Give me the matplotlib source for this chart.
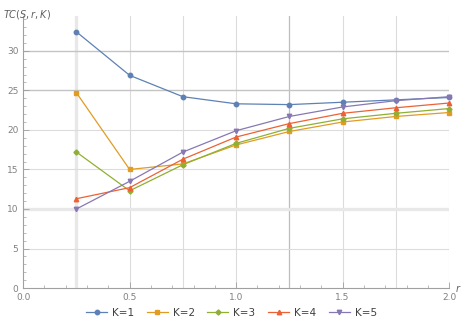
import numpy as np
import matplotlib.pyplot as plt
from matplotlib.ticker import MultipleLocator

# Data
r = [0.25, 0.5, 0.75, 1.0, 1.25, 1.5, 1.75, 2.0]
k1 = [32.4, 26.9, 24.2, 23.3, 23.2, 23.5, 23.8, 24.1]
k2 = [24.7, 15.0, 15.7, 18.1, 19.8, 21.0, 21.7, 22.2]
k3 = [17.2, 12.3, 15.6, 18.3, 20.2, 21.4, 22.1, 22.7]
k4 = [11.3, 12.7, 16.3, 19.1, 20.8, 22.1, 22.8, 23.4]
k5 = [10.0, 13.5, 17.2, 19.9, 21.7, 22.9, 23.7, 24.2]
labels = ['K=1', 'K=2', 'K=3', 'K=4', 'K=5']

colors = ['#5E81B5', '#E19C24', '#8FB032', '#EB6235', '#8778B3']
markers = ['o', 's', 'D', '^', 'v']
msizes = [3.2, 2.6, 2.6, 3.2, 3.2]

fig = plt.figure(figsize=(4.63, 3.27), dpi=100)
ax = fig.add_axes([0.05, 0.119, 0.92, 0.832])

# Grid lines (Mathematica style)
for x in [0.25, 0.5, 0.75, 1.0, 1.25, 1.5, 1.75, 2.0]:
    if x == 0.25:
        ax.axvline(x, color='#e8e8e8', lw=2.4, zorder=0)
    elif x == 1.25:
        ax.axvline(x, color='#bdbdbd', lw=0.9, zorder=0)
    else:
        ax.axvline(x, color='#dcdcdc', lw=0.8, zorder=0)
for y in [5, 10, 15, 20, 25, 30]:
    if y == 10:
        ax.axhline(y, color='#e8e8e8', lw=2.4, zorder=0)
    elif y in (25, 30):
        ax.axhline(y, color='#c4c4c4', lw=1.0, zorder=0)
    else:
        ax.axhline(y, color='#dcdcdc', lw=0.8, zorder=0)

for ys, c, m, ms, lab in zip([k1, k2, k3, k4, k5], colors, markers, msizes, labels):
    ax.plot(r, ys, color=c, marker=m, ms=ms, lw=0.9, label=lab, clip_on=False)

ax.set_xlim(0, 2.0)
ax.set_ylim(0, 34.4)
ax.xaxis.set_major_locator(MultipleLocator(0.5))
ax.xaxis.set_minor_locator(MultipleLocator(0.1))
ax.yaxis.set_major_locator(MultipleLocator(5))
ax.yaxis.set_minor_locator(MultipleLocator(1))
ax.xaxis.set_major_formatter(plt.FuncFormatter(lambda v, p: f'{v:.1f}'))

for s in ['top', 'right']:
    ax.spines[s].set_visible(False)
for s in ['left', 'bottom']:
    ax.spines[s].set_color('#a0a0a0')
    ax.spines[s].set_linewidth(0.8)
ax.tick_params(which='both', direction='in', colors='#a0a0a0', labelcolor='#808080', labelsize=6.5)
ax.tick_params(which='major', length=4, width=0.6)
ax.tick_params(which='minor', length=2, width=0.5)

fig.text(0.006, 0.975, r'$TC(S,r,K)$', fontsize=7, color='#606060', ha='left', va='top')
fig.text(0.983, 0.119, r'$r$', fontsize=7, color='#606060', ha='left', va='center')

fig.legend(loc='lower center', bbox_to_anchor=(0.5, 0.0), ncol=5, frameon=False,
           fontsize=7.5, handlelength=2, columnspacing=1.2, handletextpad=0.5,
           labelcolor='#404040')

fig.savefig('out.png', dpi=100)
